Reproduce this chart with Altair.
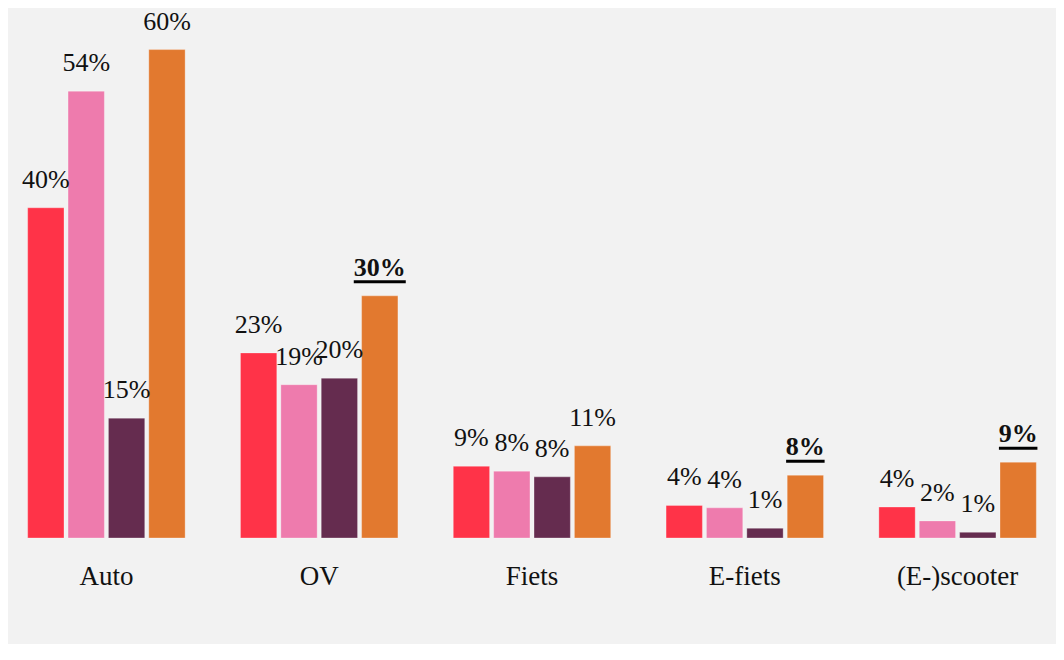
import altair as alt
import pandas as pd

categories = ["Auto", "OV", "Fiets", "E-fiets", "(E-)scooter"]
series = ["Groep 1", "Groep 2", "Groep 3", "Groep 4"]
colors = ["#ff3348", "#ee7bad", "#652c4f", "#e2792f"]

# values per series (percent)
values_s1 = [40.5, 22.7, 8.8, 4.0, 3.8]
values_s2 = [54.8, 18.8, 8.2, 3.7, 2.1]
values_s3 = [14.7, 19.6, 7.5, 1.2, 0.7]
values_s4 = [59.9, 29.7, 11.3, 7.7, 9.3]

labels_s1 = ["40%", "23%", "9%", "4%", "4%"]
labels_s2 = ["54%", "19%", "8%", "4%", "2%"]
labels_s3 = ["15%", "20%", "8%", "1%", "1%"]
labels_s4 = ["60%", "30%", "11%", "8%", "9%"]

# emphasised (bold + underlined) labels of series 4
emphasis_s4 = [False, True, False, True, True]

rows = []
all_vals = [values_s1, values_s2, values_s3, values_s4]
all_labels = [labels_s1, labels_s2, labels_s3, labels_s4]
for si, s in enumerate(series):
    for ci, c in enumerate(categories):
        emph = emphasis_s4[ci] if si == 3 else False
        lab = all_labels[si][ci]
        rows.append({
            "cat": c, "series": s, "value": all_vals[si][ci],
            "label": lab, "emph": emph,
            "uw": 13.5 * (len(lab) - 1) + 25,
        })
df = pd.DataFrame(rows)

FONT = "Liberation Serif"

x = alt.X("cat:N", sort=categories, title=None,
          scale=alt.Scale(paddingInner=0.26, paddingOuter=0.13),
          axis=alt.Axis(domain=False, ticks=False, labelAngle=0, labelFont=FONT,
                        labelFontSize=27, labelColor="#111111", labelPadding=25))
xo = alt.XOffset("series:N", sort=series,
                 scale=alt.Scale(paddingInner=0.1, paddingOuter=0))
y = alt.Y("value:Q", scale=alt.Scale(domain=[0, 65], nice=False, zero=True),
          axis=None)

base = alt.Chart(df).encode(x=x, xOffset=xo, y=y)

bars = base.mark_bar(stroke="white", strokeOpacity=0.3, strokeWidth=1).encode(
    color=alt.Color("series:N", sort=series,
                    scale=alt.Scale(domain=series, range=colors), legend=None)
)

text_normal = base.transform_filter("!datum.emph").mark_text(
    font=FONT, fontSize=26, baseline="alphabetic", dy=-20, color="#111111"
).encode(text="label:N")

text_bold = base.transform_filter("datum.emph").mark_text(
    font=FONT, fontSize=26, fontWeight="bold", baseline="alphabetic", dy=-20,
    color="#111111"
).encode(text="label:N")

underline = base.transform_filter("datum.emph").mark_tick(
    orient="horizontal", thickness=3, color="#000000", opacity=1, yOffset=-14
).encode(size=alt.Size("uw:Q", scale=None, legend=None))

chart = alt.layer(bars, text_normal, text_bold, underline).properties(
    width=1064, height=530,
    padding={"left": -8, "right": -8, "top": 0, "bottom": 55},
    background="#f2f2f2",
).configure_view(stroke=None)

chart.save("out.html", embed_options={"renderer": "svg", "actions": False})
